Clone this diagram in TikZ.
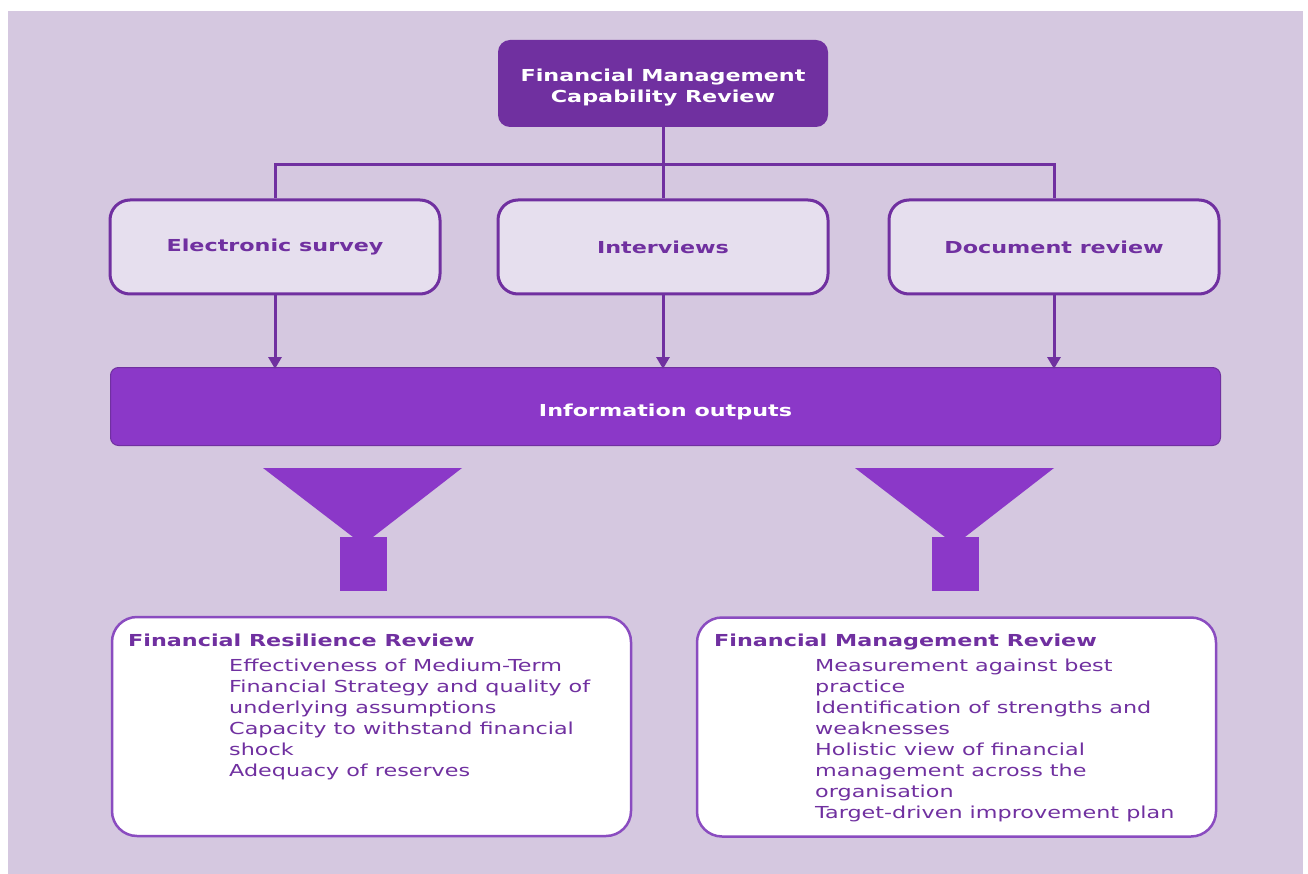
\documentclass[tikz,border=0pt]{standalone}
\usepackage{fontspec}
\setmainfont{DejaVu Sans}[FakeStretch=1.35]
\usetikzlibrary{arrows.meta}

\definecolor{fmdark}{HTML}{7030A0}
\definecolor{fmmid}{HTML}{8B38C8}
\definecolor{fmlight}{HTML}{E6DFEE}
\definecolor{fmback}{HTML}{D5C8E0}
\definecolor{fmedge}{HTML}{8A4CC0}

\begin{document}
\begin{tikzpicture}
[x=1pt,y=-1pt,
  topdecorate/.style={shape=rectangle,rounded corners=12pt,fill=fmdark,text=white,%
    font=\bfseries\fontsize{16.5}{21}\selectfont,align=center,%
    minimum width=330pt,minimum height=87pt},%
  methoddecorate/.style={shape=rectangle,rounded corners=20pt,draw=fmdark,line width=3pt,%
    fill=fmlight,text=fmdark,font=\bfseries\fontsize{16.5}{21}\selectfont,%
    minimum width=330pt,minimum height=94pt},%
  outputdecorate/.style={shape=rectangle,rounded corners=8pt,draw=fmdark,line width=1pt,%
    fill=fmmid,minimum width=1110pt,minimum height=78pt},%
  labeldecorate/.style={text=white,font=\bfseries\fontsize{16.5}{21}\selectfont,align=center},%
  reviewdecorate/.style={shape=rectangle,rounded corners=25pt,draw=fmedge,line width=2.5pt,%
    fill=white,minimum width=519pt,minimum height=219pt},%
  titledecorate/.style={anchor=base west,inner sep=0pt,text=fmdark,%
    font=\bfseries\fontsize{16.5}{21}\selectfont},%
  itemdecorate/.style={anchor=base west,inner sep=0pt,text=fmdark,align=left,%
    font=\fontsize{16.5}{21}\selectfont},%
  linedecorate/.style={-,draw=fmdark,line width=3pt},%
  arrowdecorate/.style={-{Triangle[width=13pt,length=12pt]},draw=fmdark,fill=fmdark,line width=3pt}]
%% background
\useasboundingbox (0,0) rectangle (1308,874);
\fill[fmback] (8,11) rectangle (1303,874);
%% boxes
\node (top) at (663,83.5) [topdecorate] {};
\node (toplabel) at (663,87.5) [labeldecorate] {Financial Management\\Capability Review};
\foreach \nodename/\x/\label in {
  survey/275/Electronic survey, interviews/663/Interviews, docreview/1054/Document review}
{
  \node (\nodename) at (\x,247) [methoddecorate] {\label};
}
\node (info) at (665.5,406.5) [outputdecorate] {};
\node (infolabel) at (665.5,412) [labeldecorate] {Information outputs};
%% connectors
\coordinate (split) at (663,165);
\draw[linedecorate] (top.south) -- (interviews.north);
\draw[linedecorate] (survey.north) |- (split) -| (docreview.north);
\path
\foreach \startnode in {survey, interviews, docreview}
{
  (\startnode.south) edge[arrowdecorate] ([yshift=-2pt]\startnode.south |- info.north)
};
%% funnels
\foreach \x in {363, 955}
{
  \fill[fmmid] ({\x-100},468) -- ({\x+99},468) -- ({\x+10},537) -- ({\x-10},537) -- cycle;
  \fill[fmmid] ({\x-23},537) rectangle ({\x+24},591);
}
%% reviews
\node (resilience) at (371.5,726.5) [reviewdecorate] {};
\node (management) at (956.5,727) [reviewdecorate] {};
\node (resiliencetitle) at (128,646) [titledecorate] {Financial Resilience Review};
\node (resilienceitems) at (229,776) [itemdecorate] {Effectiveness of Medium-Term\\
  Financial Strategy and quality of\\underlying assumptions\\
  Capacity to withstand financial\\shock\\Adequacy of reserves};
\node (managementtitle) at (714,646) [titledecorate] {Financial Management Review};
\node (managementitems) at (815,818) [itemdecorate] {Measurement against best\\
  practice\\Identification of strengths and\\weaknesses\\
  Holistic view of financial\\management across the\\organisation\\
  Target-driven improvement plan};
\end{tikzpicture}
\end{document}
